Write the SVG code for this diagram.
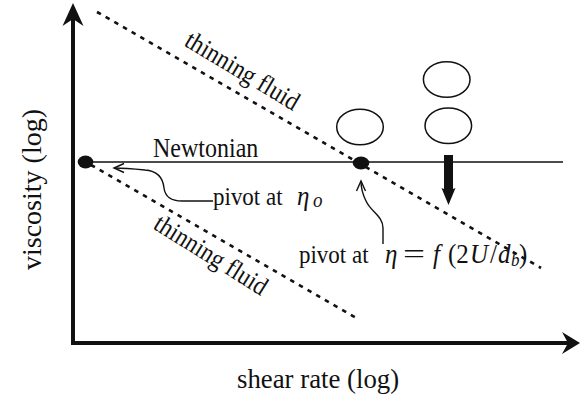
<svg xmlns="http://www.w3.org/2000/svg" width="581" height="398" viewBox="0 0 581 398">
<style>
text{font-family:"Liberation Serif","Times New Roman",serif;fill:#111}
.dash{fill:none;stroke:#111;stroke-width:2.6;stroke-dasharray:4.5 5.5}
.thin{fill:none;stroke:#111;stroke-width:1.4}
.bubble{fill:#fff;stroke:#111;stroke-width:1.5}
.it{font-style:italic}
</style>
<defs>
<marker id="open" markerUnits="userSpaceOnUse" markerWidth="14" markerHeight="12" viewBox="-11 -6 12 12" refX="0" refY="0" orient="auto">
<path d="M-10,-4.5 L0,0 L-10,4.5" fill="none" stroke="#111" stroke-width="1.4"/>
</marker>
</defs>
<g id="axes">
<line x1="73" y1="343" x2="73" y2="15" stroke="#111" stroke-width="4"/>
<line x1="71" y1="343" x2="570" y2="343" stroke="#111" stroke-width="4"/>
<path d="M73,3 L83.5,26 L73,19 L62.5,26 Z" fill="#111"/>
<path d="M580,343 L562,332 L568,343 L562,354 Z" fill="#111"/>
</g>
<g id="connectors">
<line class="thin" x1="86" y1="162" x2="563" y2="162"/>
<line class="dash" x1="97" y1="12" x2="541" y2="268"/>
<line class="dash" x1="91" y1="165" x2="358" y2="319"/>
<path class="thin" d="M213,201 L182,201 C170,201 165,196 164,188 C163,178 158,171 145,170 C135,169 124,168 114,168" marker-end="url(#open)"/>
<path class="thin" d="M383,244 L383,228 C383,216 371,212 366,201 C362,193 361,189 361,181" marker-end="url(#open)"/>
<path d="M444,155 L453,155 L453,189 L455.5,188 L448.5,205 L441.5,188 L444,189 Z" fill="#111"/>
</g>
<g id="pivot-left"><ellipse cx="85.5" cy="162" rx="7.8" ry="6.5" fill="#111"/></g>
<g id="pivot-mid"><ellipse cx="361" cy="163" rx="8.3" ry="6.5" fill="#111"/></g>
<g id="bubble-mid"><ellipse class="bubble" cx="360" cy="127" rx="23.3" ry="17.8"/></g>
<g id="bubble-top"><ellipse class="bubble" cx="446.7" cy="79.5" rx="23.3" ry="17.8"/></g>
<g id="bubble-low"><ellipse class="bubble" cx="448.3" cy="125.8" rx="23.3" ry="17.8"/></g>
<g id="labels">
<text x="153" y="157" font-size="24" transform="translate(0 157) scale(1 1.15) translate(0 -157)">Newtonian</text>
<text x="183" y="45" font-size="23.5" transform="rotate(31 183 45) translate(0 45) scale(1 1.12) translate(0 -45)">thinning fluid</text>
<text x="152" y="228" font-size="23.5" transform="rotate(32 152 228) translate(0 228) scale(1 1.12) translate(0 -228)">thinning fluid</text>
<g transform="translate(0 205) scale(1 1.12) translate(0 -205)">
<text x="213" y="205" font-size="23">pivot at</text>
<text x="297" y="205" font-size="25" class="it">η</text>
<text x="313" y="207" font-size="19" class="it">o</text>
</g>
<g transform="translate(0 263) scale(1 1.12) translate(0 -263)">
<text x="299" y="263" font-size="23">pivot at</text>
<text x="385" y="263" font-size="25" class="it">η</text>
<text x="403" y="263" font-size="25" textLength="22" lengthAdjust="spacingAndGlyphs">=</text>
<text x="433" y="263" font-size="25" class="it">f</text>
<text x="448" y="263" font-size="25">(2</text>
<text x="470" y="263" font-size="25" class="it">U</text>
<text x="490" y="263" font-size="25">/</text>
<text x="498" y="263" font-size="25" class="it">d</text>
<text x="511" y="266" font-size="17" class="it">b</text>
<text x="519" y="263" font-size="25">)</text>
</g>
<text x="237" y="388" font-size="26.8">shear rate (log)</text>
<text x="41" y="270" font-size="28" transform="rotate(-90 41 270)">viscosity (log)</text>
</g>
</svg>
